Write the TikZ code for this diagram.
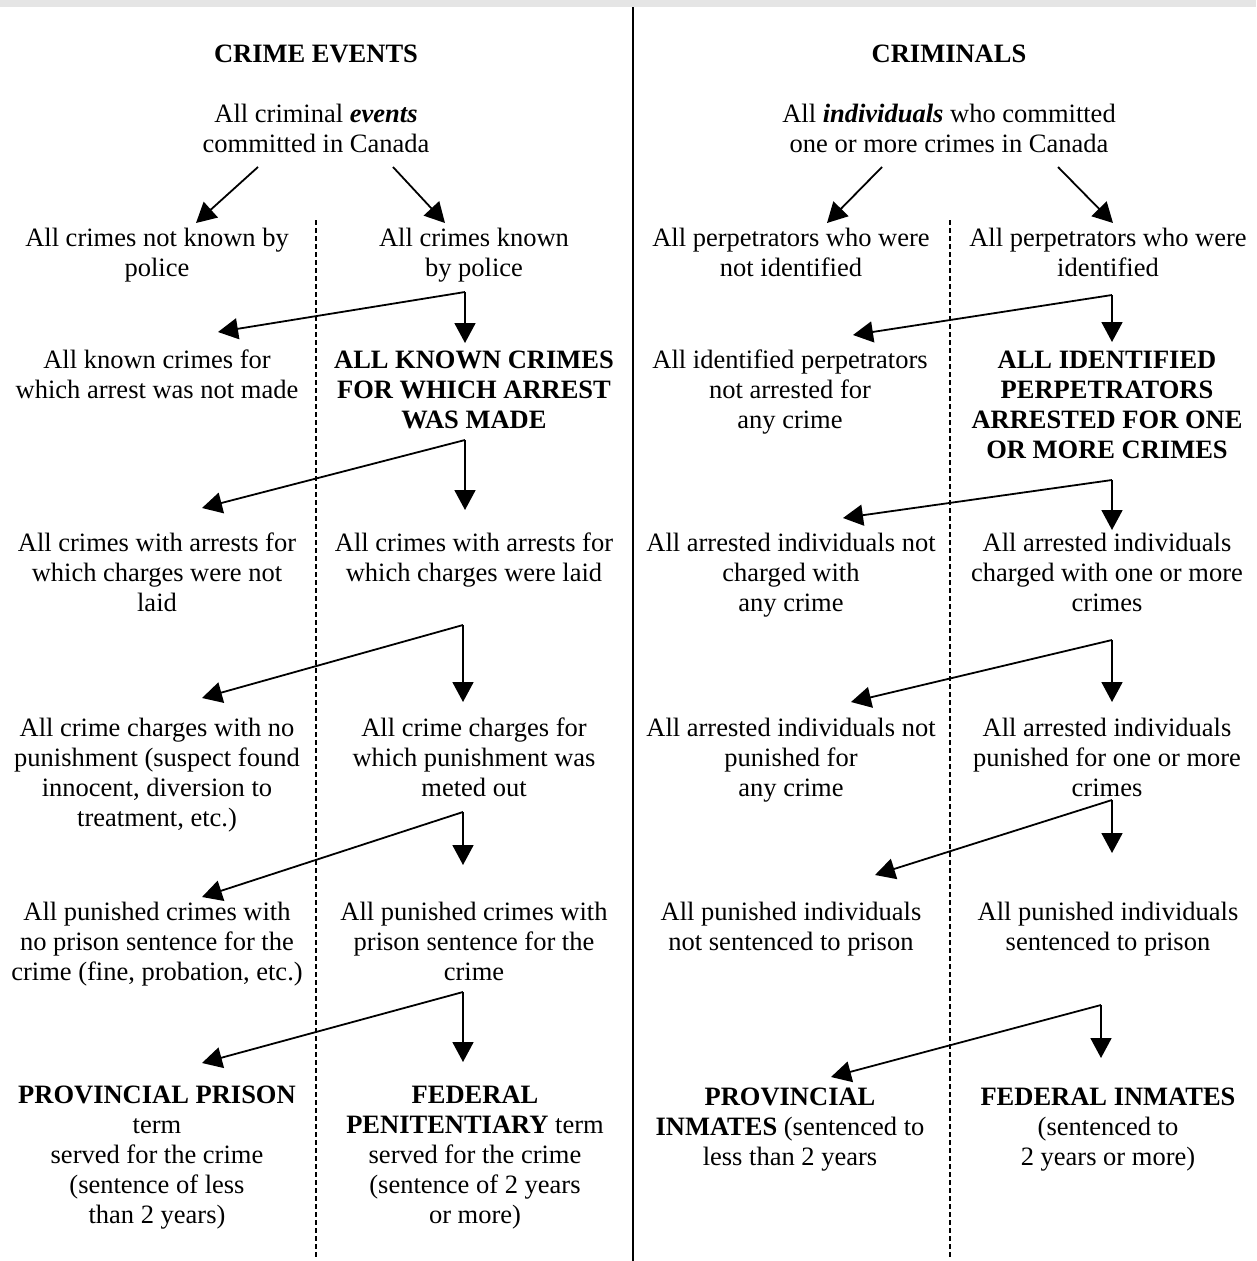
\documentclass[tikz,border=0pt]{standalone}
\usepackage{fontspec}
\setmainfont{Liberation Serif}
\usetikzlibrary{arrows.meta}
\tikzset{
  txt/.style={align=center, anchor=base, inner sep=0pt, font=\fontsize{26.5}{30}\selectfont},
  bold/.style={font=\fontsize{26.5}{30}\selectfont\bfseries},
  flow/.style={line width=1.8pt, -{Triangle[length=20pt,width=21pt]}},
  sep/.style={line width=1.4pt, dash pattern=on 5pt off 3pt},
  divider/.style={line width=2.6pt}
}
\begin{document}
\begin{tikzpicture}[x=1pt,y=-1pt]
% (node anchor = baseline of the LAST line of each text)
\useasboundingbox (0,0) rectangle (1256,1261);
\fill[gray!20] (0,0) rectangle (1256,7);
% dividers
\coordinate (dvT) at (633,7); \coordinate (dvB) at (633,1261);
\draw[divider] (dvT) -- (dvB);
\coordinate (l1T) at (316,220); \coordinate (l1B) at (316,1257);
\coordinate (l2T) at (950,220); \coordinate (l2B) at (950,1257);
\draw[sep] (l1T) -- (l1B);
\draw[sep] (l2T) -- (l2B);

% ---------------- LEFT: CRIME EVENTS
\node[txt,bold] (title1) at (316,62) {CRIME EVENTS};
\node[txt] (root1) at (316,152) {All criminal \textbf{\textit{events}}\\committed in Canada};
\node[txt] (a1) at (157,276) {All crimes not known by\\police};
\node[txt] (b1) at (474,276) {All crimes known\\by police};
\node[txt] (a2) at (157,398) {All known crimes for\\which arrest was not made};
\node[txt,bold] (b2) at (474,428) {ALL KNOWN CRIMES\\FOR WHICH ARREST\\WAS MADE};
\node[txt] (a3) at (157,611) {All crimes with arrests for\\which charges were not\\laid};
\node[txt] (b3) at (474,581) {All crimes with arrests for\\which charges were laid};
\node[txt] (a4) at (157,826) {All crime charges with no\\punishment (suspect found\\innocent, diversion to\\treatment, etc.)};
\node[txt] (b4) at (474,796) {All crime charges for\\which punishment was\\meted out};
\node[txt] (a5) at (157,980) {All punished crimes with\\no prison sentence for the\\crime (fine, probation, etc.)};
\node[txt] (b5) at (474,980) {All punished crimes with\\prison sentence for the\\crime};
\node[txt] (a6) at (157,1223) {\textbf{PROVINCIAL PRISON}\\term\\served for the crime\\(sentence of less\\than 2 years)};
\node[txt] (b6) at (475,1223) {\textbf{FEDERAL}\\\textbf{PENITENTIARY} term\\served for the crime\\(sentence of 2 years\\or more)};

% arrows left
\coordinate (r1s1) at (258,167); \coordinate (r1e1) at (196,223);
\coordinate (r1s2) at (393,167); \coordinate (r1e2) at (445,223);
\draw[flow] (r1s1) -- (r1e1);
\draw[flow] (r1s2) -- (r1e2);
\coordinate (k1) at (465,292); \coordinate (k1l) at (218,332); \coordinate (k1d) at (465,343);
\coordinate (k2) at (465,440); \coordinate (k2l) at (202,508); \coordinate (k2d) at (465,510);
\coordinate (k3) at (463,625); \coordinate (k3l) at (202,698); \coordinate (k3d) at (463,702);
\coordinate (k4) at (463,812); \coordinate (k4l) at (202,897); \coordinate (k4d) at (463,865);
\coordinate (k5) at (463,992); \coordinate (k5l) at (202,1063); \coordinate (k5d) at (463,1062);
\foreach \k in {k1,k2,k3,k4,k5}{
  \draw[flow] (\k) -- (\k l);
  \draw[flow] (\k) -- (\k d);
}

% ---------------- RIGHT: CRIMINALS
\node[txt,bold] (title2) at (949,62) {CRIMINALS};
\node[txt] (root2) at (949,152) {All \textbf{\textit{individuals}} who committed\\one or more crimes in Canada};
\node[txt] (c1) at (791,276) {All perpetrators who were\\not identified};
\node[txt] (d1) at (1108,276) {All perpetrators who were\\identified};
\node[txt] (c2) at (790,428) {All identified perpetrators\\not arrested for\\any crime};
\node[txt,bold] (d2) at (1107,458) {ALL IDENTIFIED\\PERPETRATORS\\ARRESTED FOR ONE\\OR MORE CRIMES};
\node[txt] (c3) at (791,611) {All arrested individuals not\\charged with\\any crime};
\node[txt] (d3) at (1107,611) {All arrested individuals\\charged with one or more\\crimes};
\node[txt] (c4) at (791,796) {All arrested individuals not\\punished for\\any crime};
\node[txt] (d4) at (1107,796) {All arrested individuals\\punished for one or more\\crimes};
\node[txt] (c5) at (791,950) {All punished individuals\\not sentenced to prison};
\node[txt] (d5) at (1108,950) {All punished individuals\\sentenced to prison};
\node[txt] (c6) at (790,1165) {\textbf{PROVINCIAL}\\\textbf{INMATES} (sentenced to\\less than 2 years};
\node[txt] (d6) at (1108,1165) {\textbf{FEDERAL INMATES}\\(sentenced to\\2 years or more)};

% arrows right
\coordinate (q1s1) at (882,167); \coordinate (q1e1) at (827,223);
\coordinate (q1s2) at (1058,167); \coordinate (q1e2) at (1113,223);
\draw[flow] (q1s1) -- (q1e1);
\draw[flow] (q1s2) -- (q1e2);
\coordinate (m1) at (1112,295); \coordinate (m1l) at (853,335); \coordinate (m1d) at (1112,342);
\coordinate (m2) at (1112,480); \coordinate (m2l) at (843,518); \coordinate (m2d) at (1112,530);
\coordinate (m3) at (1112,640); \coordinate (m3l) at (851,702); \coordinate (m3d) at (1112,702);
\coordinate (m4) at (1112,800); \coordinate (m4l) at (875,875); \coordinate (m4d) at (1112,853);
\coordinate (m5) at (1101,1005); \coordinate (m5l) at (831,1077); \coordinate (m5d) at (1101,1058);
\foreach \k in {m1,m2,m3,m4,m5}{
  \draw[flow] (\k) -- (\k l);
  \draw[flow] (\k) -- (\k d);
}
\end{tikzpicture}
\end{document}
